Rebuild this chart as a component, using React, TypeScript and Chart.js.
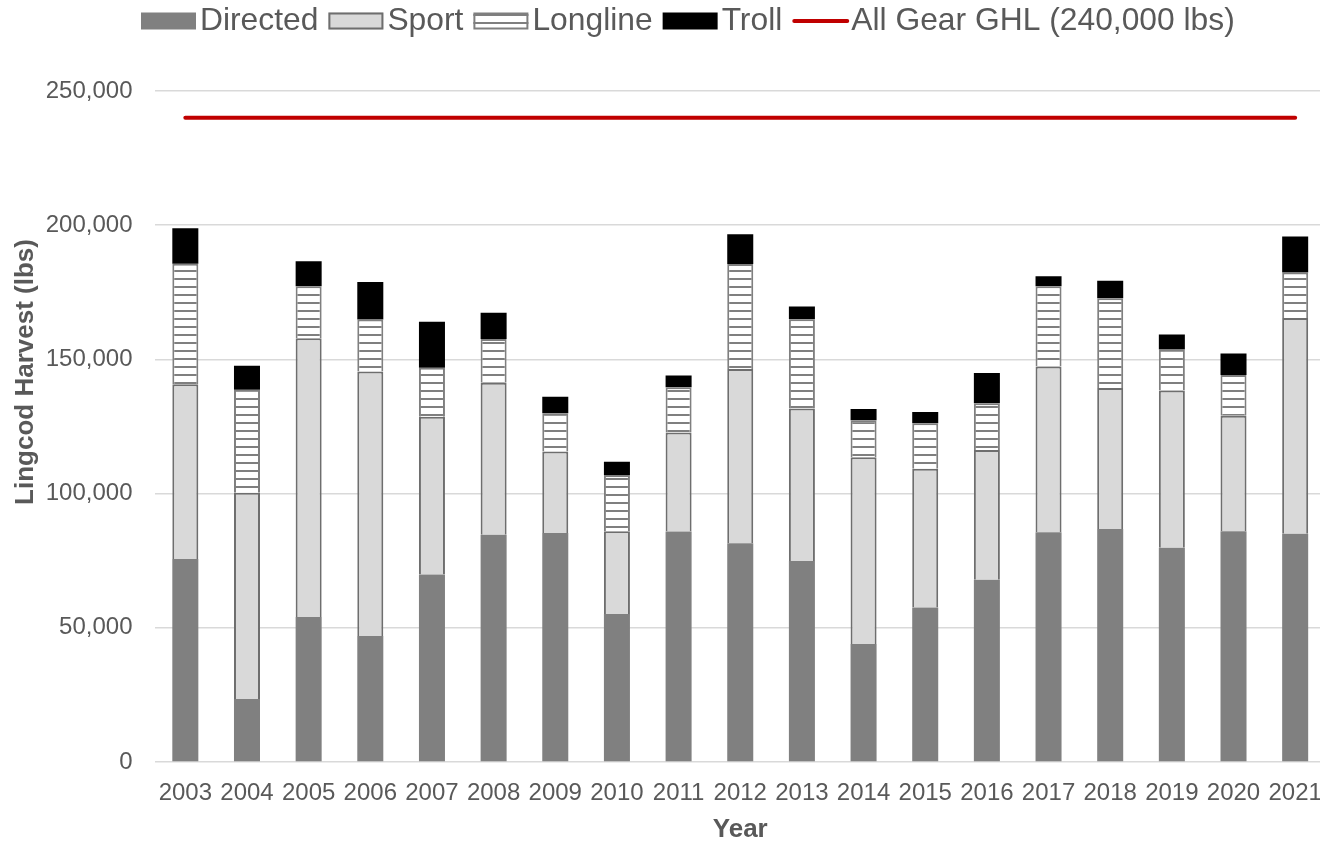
import { useEffect, useRef } from 'react';
import { Chart, registerables } from 'chart.js';

Chart.register(...registerables);

const years = ['2003', '2004', '2005', '2006', '2007', '2008', '2009', '2010', '2011', '2012', '2013', '2014', '2015', '2016', '2017', '2018', '2019', '2020', '2021'];
const directed = [75600, 23500, 54000, 46900, 69900, 84700, 85300, 55100, 85900, 81500, 74900, 44000, 57600, 67900, 85600, 86800, 79800, 86000, 85000];
const sport = [65100, 76800, 103900, 98600, 58700, 56600, 30400, 30900, 36900, 64900, 56800, 69500, 51700, 48300, 61800, 52500, 58600, 43000, 80400];
const longline = [44900, 38400, 19400, 19400, 18300, 16300, 14200, 20900, 16800, 39100, 33300, 13800, 16900, 17500, 29900, 33500, 15300, 15200, 17000];
const troll = [13300, 8900, 9300, 13900, 17100, 9800, 6200, 5000, 4400, 11100, 4700, 4200, 4200, 11200, 3700, 6500, 5600, 8000, 13400];
const ghl = [240000, 240000, 240000, 240000, 240000, 240000, 240000, 240000, 240000, 240000, 240000, 240000, 240000, 240000, 240000, 240000, 240000, 240000, 240000];

const yTicks = [0, 50000, 100000, 150000, 200000, 250000];
const legendLabels = ['Directed', 'Sport', 'Longline', 'Troll', 'All Gear GHL (240,000 lbs)'];
const yTitle = 'Lingcod Harvest (lbs)';
const xTitle = 'Year';

const FONT = '"Liberation Sans", Arial, Helvetica, sans-serif';
const TEXT = '#595959';

function makeHatch(): CanvasPattern | string {
  const c = document.createElement('canvas');
  c.width = 8;
  c.height = 8;
  const g = c.getContext('2d');
  if (!g) return '#ffffff';
  g.fillStyle = '#ffffff';
  g.fillRect(0, 0, 8, 8);
  g.fillStyle = '#7f7f7f';
  g.fillRect(0, 6, 8, 2);
  const p = g.createPattern(c, 'repeat');
  return p || '#ffffff';
}

export default function App() {
  const ref = useRef<HTMLCanvasElement | null>(null);

  useEffect(() => {
    document.documentElement.style.overflow = 'hidden';
    document.body.style.margin = '0';
    document.body.style.overflow = 'hidden';
    const canvas = ref.current;
    if (!canvas) return;
    const hatch = makeHatch();

    const overlay = {
      id: 'overlay',
      afterDraw(chart: any) {
        const ctx = chart.ctx as CanvasRenderingContext2D;
        ctx.save();
        // custom legend
        ctx.font = `31.8px ${FONT}`;
        ctx.textBaseline = 'middle';
        ctx.textAlign = 'left';
        let x = 141;
        const cy = 21;
        const bw = 55;
        const bh = 17;
        legendLabels.forEach((label, i) => {
          const by = cy - bh / 2;
          if (i === 0) {
            ctx.fillStyle = '#808080';
            ctx.fillRect(x, by, bw, bh);
          } else if (i === 1) {
            ctx.fillStyle = '#d9d9d9';
            ctx.fillRect(x, by, bw, bh);
            ctx.strokeStyle = '#6e6e6e';
            ctx.lineWidth = 2;
            ctx.strokeRect(x + 1, by + 1, bw - 2, bh - 2);
          } else if (i === 2) {
            ctx.fillStyle = hatch as any;
            ctx.fillRect(x, by, bw, bh);
            ctx.strokeStyle = '#7f7f7f';
            ctx.lineWidth = 2;
            ctx.strokeRect(x + 1, by + 1, bw - 2, bh - 2);
          } else if (i === 3) {
            ctx.fillStyle = '#000000';
            ctx.fillRect(x, by, bw, bh);
          } else {
            ctx.strokeStyle = '#c00000';
            ctx.lineWidth = 4;
            ctx.lineCap = 'round';
            ctx.beginPath();
            ctx.moveTo(x + 2, cy);
            ctx.lineTo(x + bw, cy);
            ctx.stroke();
          }
          x += bw + 4;
          ctx.fillStyle = TEXT;
          ctx.fillText(label, x, cy);
          x += ctx.measureText(label).width + 10;
        });
        // y axis title
        ctx.font = `bold 26px ${FONT}`;
        ctx.textAlign = 'center';
        ctx.textBaseline = 'middle';
        ctx.fillStyle = TEXT;
        ctx.translate(26, 372);
        ctx.rotate(-Math.PI / 2);
        ctx.fillText(yTitle, 0, 0);
        ctx.restore();
      },
    };

    const chart = new Chart(canvas, {
      type: 'bar',
      data: {
        labels: years,
        datasets: [
          { type: 'bar', label: legendLabels[0], data: directed, backgroundColor: '#808080', borderColor: '#808080', borderWidth: 0, stack: 'h', order: 1 },
          { type: 'bar', label: legendLabels[1], data: sport, backgroundColor: '#d9d9d9', borderColor: '#6e6e6e', borderWidth: 2, stack: 'h', order: 1 },
          { type: 'bar', label: legendLabels[2], data: longline, backgroundColor: hatch as any, borderColor: '#7f7f7f', borderWidth: 2, stack: 'h', order: 1 },
          { type: 'bar', label: legendLabels[3], data: troll, backgroundColor: '#000000', borderColor: '#000000', borderWidth: 0, stack: 'h', order: 1 },
          { type: 'line', label: legendLabels[4], data: ghl, borderColor: '#c00000', backgroundColor: '#c00000', borderWidth: 4, borderCapStyle: 'round', pointRadius: 0, pointHoverRadius: 0, fill: false, stack: 'g', order: 0 } as any,
        ],
      },
      options: {
        responsive: false,
        animation: false,
        devicePixelRatio: 1,
        layout: { padding: { top: 91, left: 0, right: 0, bottom: 0 } },
        plugins: {
          legend: { display: false },
          tooltip: { enabled: false },
        },
        datasets: { bar: { barPercentage: 0.422, categoryPercentage: 1 } },
        scales: {
          x: {
            stacked: true,
            grid: { display: false, drawTicks: false },
            border: { display: false },
            ticks: { color: TEXT, font: { family: FONT, size: 24 }, padding: 17, maxRotation: 0, autoSkip: false },
            title: { display: true, text: xTitle, color: TEXT, font: { family: FONT, size: 26, weight: 'bold', lineHeight: 0.85 }, padding: 0 },
            afterFit: (s: any) => { s.height = 79; s.paddingLeft = 0; s.paddingRight = 0; },
          },
          y: {
            stacked: true,
            min: 0,
            max: 250000,
            afterBuildTicks: (s: any) => { s.ticks = yTicks.map((v) => ({ value: v })); },
            grid: { color: '#d9d9d9', lineWidth: 1.5, drawTicks: false },
            border: { display: false },
            ticks: { color: TEXT, font: { family: FONT, size: 24 }, padding: 22, callback: (v: any) => Number(v).toLocaleString('en-US') },
            afterFit: (s: any) => { s.width = 154.5; },
          },
        },
      },
      plugins: [overlay],
    });
    return () => chart.destroy();
  }, []);

  return (
    <div style={{ width: 1326, height: 841 }}>
      <canvas ref={ref} width={1326} height={841} style={{ width: 1326, height: 841, display: 'block' }} />
    </div>
  );
}
